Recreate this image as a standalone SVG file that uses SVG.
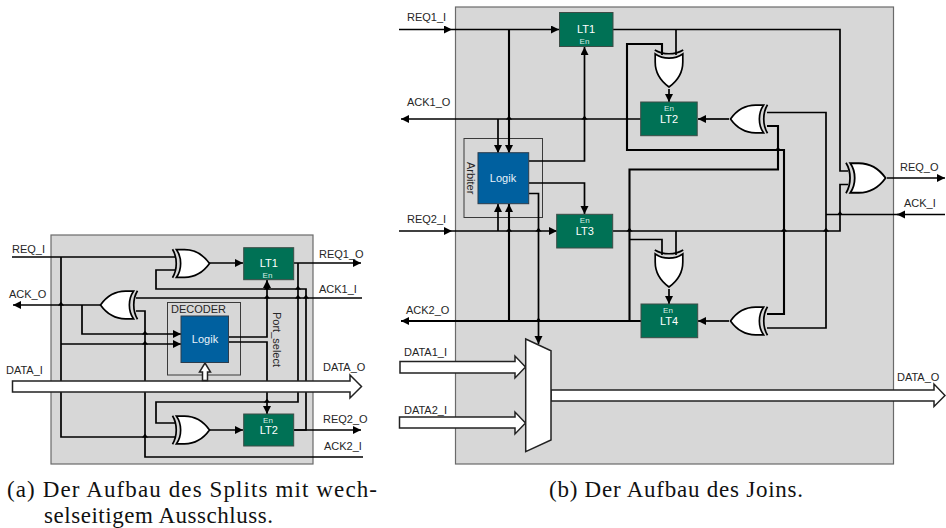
<svg xmlns="http://www.w3.org/2000/svg" xmlns:xlink="http://www.w3.org/1999/xlink" width="946" height="528" viewBox="0 0 946 528">
<style>
text{font-family:"Liberation Sans",Arial,sans-serif;font-size:11px;fill:#262626}
.cap{font-family:"Liberation Serif","Times New Roman",serif;font-size:23px;fill:#111}
.panel{fill:#d7d7d7;stroke:#6a6a6a;stroke-width:1.2}
.frame{fill:none;stroke:#3a3a3a;stroke-width:1}
.w{fill:none;stroke:#000;stroke-width:1.7}
.t{fill:none;stroke:#000;stroke-width:2.1}
.fat{fill:#fff;stroke:#222;stroke-width:1.5}
.lt{fill:#007155;stroke:#3c4c46;stroke-width:1}
.lg{fill:#00609f;stroke:#2c3c4c;stroke-width:1}
.n{fill:#fff;text-anchor:middle}
.e{fill:#d5eee5;text-anchor:middle;font-size:8px}
.g{fill:#fff;stroke:#000;stroke-width:1.7}
.a{fill:none;stroke:#000;stroke-width:1.7}
.h{fill:#000}
</style>
<defs>
<marker id="ar" markerUnits="userSpaceOnUse" markerWidth="9" markerHeight="9" refX="8" refY="4" orient="auto"><path d="M0,0L8,4L0,8Z" fill="#000"/></marker>
<path id="hop" d="M-3.2,0.6C-1.6,-0.4-1.2,-3-0,-3C1.2,-3 1.6,-0.4 3.2,0.6Z"/>
<g id="xor">
<path class="a" d="M0,-14.2C5,-6 5,6 0,14.2"/>
<path class="g" d="M4,-13.800H12C24,-13.800 32,-7 37,0C32,7 24,13.800 12,13.800H4C9.500,6 9.500,-6 4,-13.800Z"/>
</g>
</defs>

<rect class="panel" x="51" y="235" width="262" height="229"/>
<rect class="panel" x="455.5" y="7" width="438" height="457"/>
<rect id="decoder-frame" class="frame" x="167.500" y="302.500" width="73" height="72.500"/>
<rect id="arbiter-frame" class="frame" x="464" y="138.500" width="78.500" height="79"/>

<g id="connectors">
<path class="w" d="M12,257H175M61,257V437H175"/>
<path class="w" marker-end="url(#ar)" d="M209,263H243"/>
<path class="w" marker-end="url(#ar)" d="M294,263H361"/>
<path class="w" marker-end="url(#ar)" d="M294,430H361"/>
<path class="w" d="M175,270H156V289H306V430H294"/>
<path class="w" d="M298,263V402H156V423H175"/>
<path class="w" d="M362,298H136"/>
<path class="w" d="M136,311H145V457H363"/>
<path class="w" marker-end="url(#ar)" d="M102,305H13"/>
<path class="w" marker-end="url(#ar)" d="M82,305V334H181"/>
<path class="w" marker-end="url(#ar)" d="M61,344H181"/>
<path class="w" marker-end="url(#ar)" d="M228,337H267V280"/>
<path class="w" marker-end="url(#ar)" d="M228,342H267V414"/>
<path class="w" marker-end="url(#ar)" d="M209,430H243"/>
<g class="h">
<use xlink:href="#hop" x="61" y="305"/><use xlink:href="#hop" x="145" y="334"/><use xlink:href="#hop" x="145" y="344"/><use xlink:href="#hop" x="145" y="437"/><use xlink:href="#hop" x="267" y="289"/><use xlink:href="#hop" x="298" y="289"/><use xlink:href="#hop" x="267" y="298"/><use xlink:href="#hop" x="298" y="298"/><use xlink:href="#hop" x="306" y="298"/><use xlink:href="#hop" x="267" y="402"/>
</g>
<polygon class="fat" points="12.500,381 350,381 350,375 361.500,386.500 350,398 350,392 12.500,392"/>
<polygon class="fat" points="205,363 210.500,372 207.500,372 207.500,380.500 202.500,380.500 202.500,372 199.500,372"/>

<path class="w" marker-end="url(#ar)" d="M399,29.500H452"/>
<path class="w" marker-end="url(#ar)" d="M452,29.500H559"/>
<path class="w" d="M613,29.500H840V171H848"/>
<path class="w" d="M676,29.500V55"/>
<path class="w" d="M848,184.500H840V231H613"/>
<path class="w" marker-end="url(#ar)" d="M887,178H945"/>
<path class="w" marker-end="url(#ar)" d="M945,214.500H897"/>
<path class="w" d="M900,214.500H826"/>
<path class="w" d="M767,112.500H826V328H767"/>
<path class="w" marker-end="url(#ar)" d="M729,119H698"/>
<path class="w" marker-end="url(#ar)" d="M641,119H401"/>
<path class="t" d="M767,126H778V169.500H629.500V321"/>
<path class="t" d="M662,55V44H627V150H784V314H767"/>
<path class="w" marker-end="url(#ar)" d="M669,89V102"/>
<path class="t" marker-end="url(#ar)" d="M509,29.500V153"/>
<path class="w" marker-end="url(#ar)" d="M498,119V153"/>
<path class="w" marker-end="url(#ar)" d="M529,161H584.500V47"/>
<path class="w" marker-end="url(#ar)" d="M529,183H584.500V214"/>
<path class="w" marker-end="url(#ar)" d="M529,193.500H538.500V344"/>
<path class="w" marker-end="url(#ar)" d="M399,231H452"/>
<path class="w" marker-end="url(#ar)" d="M452,231H557"/>
<path class="w" marker-end="url(#ar)" d="M498,231V204"/>
<path class="t" marker-end="url(#ar)" d="M509,321V204"/>
<path class="t" marker-end="url(#ar)" d="M641,321H401"/>
<path class="w" d="M662,255V239.500H629.500"/>
<path class="w" d="M676,231V255"/>
<path class="w" marker-end="url(#ar)" d="M669,289V304"/>
<path class="w" marker-end="url(#ar)" d="M729,321H698"/>
<g class="h">
<use xlink:href="#hop" x="509" y="119"/><use xlink:href="#hop" x="584.500" y="119"/><use xlink:href="#hop" x="509" y="231"/><use xlink:href="#hop" x="538.500" y="231"/><use xlink:href="#hop" x="538.500" y="321"/><use xlink:href="#hop" x="629.500" y="231"/><use xlink:href="#hop" x="778" y="150"/><use xlink:href="#hop" x="784" y="231"/><use xlink:href="#hop" x="826" y="231"/><use xlink:href="#hop" x="840" y="214.500"/>
</g>
<polygon class="fat" points="400,361.500 515,361.500 515,356 525.500,367 515,378 515,373 400,373"/>
<polygon class="fat" points="399.500,417 515,417 515,412 525.500,423 515,434 515,428 399.500,428"/>
<polygon class="fat" points="551,390 934,390 934,384 945,395.500 934,406.500 934,401 551,401"/>
</g>

<g id="xor-a1"><use xlink:href="#xor" transform="translate(172.500,263.500)"/></g>
<g id="xor-a2"><use xlink:href="#xor" transform="translate(172.500,430)"/></g>
<g id="xor-a3"><use xlink:href="#xor" transform="translate(137.500,305) rotate(180)"/></g>
<g id="lt1a"><rect class="lt" x="243.700" y="247.700" width="50" height="32"/><text class="n" x="268.700" y="267">LT1</text><text class="e" x="267.500" y="277.500">En</text></g>
<g id="lt2a"><rect class="lt" x="243.700" y="414" width="50" height="32"/><text class="n" x="268.700" y="434">LT2</text><text class="e" x="268" y="423">En</text></g>
<g id="logik-a"><rect class="lg" x="181" y="316" width="47.500" height="46.500"/><text class="n" x="205" y="343" style="fill:#e8f2fa">Logik</text></g>

<g id="lt1b"><rect class="lt" x="559.500" y="12.500" width="53.500" height="34"/><text class="n" x="586" y="33">LT1</text><text class="e" x="584.500" y="44">En</text></g>
<g id="lt2b"><rect class="lt" x="640.700" y="102" width="56.500" height="33.700"/><text class="n" x="669" y="123">LT2</text><text class="e" x="669" y="111">En</text></g>
<g id="lt3b"><rect class="lt" x="556.700" y="214.300" width="56" height="33.700"/><text class="n" x="584.700" y="235">LT3</text><text class="e" x="584.700" y="223">En</text></g>
<g id="lt4b"><rect class="lt" x="641" y="304" width="56.700" height="33.700"/><text class="n" x="669" y="325">LT4</text><text class="e" x="668" y="313">En</text></g>
<g id="logik-b"><rect class="lg" x="478" y="152.700" width="50.700" height="51"/><text class="n" x="503" y="182" style="fill:#e8f2fa">Logik</text></g>
<g id="xor-b1"><use xlink:href="#xor" transform="translate(669,50) rotate(90)"/></g>
<g id="xor-b2"><use xlink:href="#xor" transform="translate(669,250) rotate(90)"/></g>
<g id="xor-b3"><use xlink:href="#xor" transform="translate(767.500,119) rotate(180)"/></g>
<g id="xor-b4"><use xlink:href="#xor" transform="translate(767.500,321) rotate(180)"/></g>
<g id="xor-b5"><use xlink:href="#xor" transform="translate(846,178) scale(1.07)"/></g>
<g id="mux"><polygon class="fat" points="525.700,339 551,350.700 551,440 525.700,451.700"/></g>

<g id="labels">
<text x="12" y="253">REQ_I</text>
<text x="319" y="258">REQ1_O</text>
<text x="319" y="293">ACK1_I</text>
<text x="9" y="298">ACK_O</text>
<text x="171" y="313">DECODER</text>
<text x="6" y="374">DATA_I</text>
<text x="323" y="371">DATA_O</text>
<text x="323" y="423">REQ2_O</text>
<text x="324" y="450">ACK2_I</text>
<text transform="translate(272.500,312) rotate(90)">Port_select</text>
<text x="407" y="21">REQ1_I</text>
<text x="407" y="106">ACK1_O</text>
<text transform="translate(467,162) rotate(90)">Arbiter</text>
<text x="407" y="223">REQ2_I</text>
<text x="406" y="314">ACK2_O</text>
<text x="404" y="356">DATA1_I</text>
<text x="404" y="414">DATA2_I</text>
<text x="900" y="171">REQ_O</text>
<text x="904" y="207">ACK_I</text>
<text x="897" y="381">DATA_O</text>
<text class="cap" x="7" y="497" textLength="370" lengthAdjust="spacing">(a) Der Aufbau des Splits mit wech-</text>
<text class="cap" x="44" y="522.500" textLength="229" lengthAdjust="spacing">selseitigem Ausschluss.</text>
<text class="cap" x="549" y="497" textLength="254" lengthAdjust="spacing">(b) Der Aufbau des Joins.</text>
</g>
</svg>
